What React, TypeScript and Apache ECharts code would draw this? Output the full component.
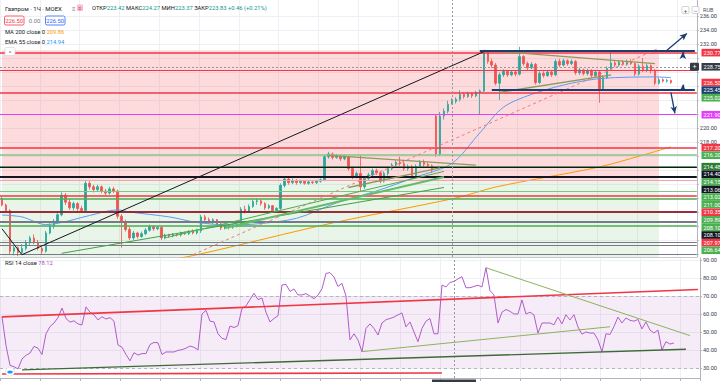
import React, { useEffect, useRef } from 'react';
import * as echarts from 'echarts';

// ---------- DATA ----------
const categories: string[] = Array.from({ length: 175 }, (_, i) => String(i));

// [open, close, low, high]
const candles: number[][] = [
  [209.9, 209.0, 208.8, 210.2], [209.0, 208.2, 207.9, 209.2], [208.2, 202.4, 201.9, 208.4], [202.4, 202.9, 201.8, 203.3],
  [202.9, 202.2, 201.7, 203.1], [202.2, 202.8, 201.9, 203.4], [202.8, 203.6, 202.5, 204.0], [203.6, 204.3, 203.2, 204.6],
  [204.3, 203.7, 203.4, 204.8], [203.7, 202.8, 202.5, 204.0], [202.8, 202.4, 201.9, 203.0], [202.4, 205.0, 202.2, 205.3],
  [205.0, 206.0, 204.8, 206.4], [206.0, 206.7, 205.6, 207.0], [206.7, 207.6, 206.4, 208.0], [207.6, 210.4, 207.4, 210.8],
  [210.4, 209.4, 209.0, 210.7], [209.4, 208.6, 208.3, 209.9], [208.6, 209.2, 208.2, 209.5], [209.2, 208.5, 208.1, 209.4],
  [208.5, 208.2, 207.9, 208.9], [208.2, 212.1, 208.0, 212.5], [212.1, 211.6, 211.2, 212.4], [211.6, 211.2, 210.8, 211.9],
  [211.2, 211.6, 210.9, 211.9], [211.6, 211.0, 210.7, 211.8], [211.0, 210.7, 210.4, 211.3], [210.7, 211.3, 210.5, 211.6],
  [211.3, 211.0, 210.7, 211.6], [211.0, 207.4, 207.0, 211.2], [207.4, 206.6, 202.9, 207.7], [206.6, 205.5, 205.2, 206.9],
  [205.5, 204.3, 204.0, 205.9], [204.3, 205.0, 204.0, 205.3], [205.0, 204.5, 204.2, 205.2], [204.5, 204.9, 204.3, 205.2],
  [204.9, 205.4, 204.7, 205.7], [205.4, 205.9, 205.2, 206.2], [205.9, 205.6, 205.3, 206.1], [205.6, 205.8, 205.4, 206.0],
  [205.8, 204.3, 204.0, 206.0], [204.3, 204.7, 204.1, 204.9], [204.7, 204.6, 204.3, 204.9], [204.6, 204.8, 204.4, 205.0],
  [204.8, 204.7, 204.5, 205.0], [204.7, 205.0, 204.5, 205.2], [205.0, 204.9, 204.7, 205.2], [204.9, 205.2, 204.7, 205.4],
  [205.2, 205.0, 204.8, 205.5], [205.0, 205.3, 204.8, 205.6], [205.3, 207.3, 205.0, 207.6], [207.3, 206.9, 206.6, 207.6],
  [206.9, 206.6, 206.3, 207.2], [206.6, 206.9, 206.3, 207.1], [206.9, 206.3, 206.0, 207.0], [206.3, 205.7, 205.4, 206.5],
  [205.7, 206.0, 205.5, 206.2], [206.0, 205.8, 205.5, 206.2], [205.8, 206.1, 205.6, 206.3], [206.1, 206.2, 205.8, 206.4],
  [206.2, 208.4, 206.0, 208.7], [208.4, 208.1, 207.8, 208.9], [208.1, 208.8, 207.9, 209.1], [208.8, 209.5, 208.6, 209.8],
  [209.5, 209.6, 209.0, 209.9], [209.6, 209.2, 208.9, 209.8], [209.2, 208.6, 208.3, 209.4], [208.6, 208.9, 208.4, 209.1],
  [208.9, 208.2, 207.9, 209.0], [208.2, 208.5, 208.0, 208.7], [208.5, 211.8, 208.3, 212.1], [211.8, 212.7, 211.5, 213.0],
  [212.7, 212.2, 211.9, 212.9], [212.2, 212.5, 212.0, 212.8], [212.5, 212.2, 211.9, 212.7], [212.2, 212.4, 212.0, 212.6],
  [212.4, 212.1, 211.9, 212.5], [212.1, 212.3, 211.9, 212.5], [212.3, 212.2, 212.0, 212.4], [212.2, 212.4, 212.0, 212.6],
  [212.4, 212.6, 212.2, 212.8], [212.6, 215.9, 212.4, 216.2], [215.9, 216.3, 215.6, 216.6], [216.3, 215.8, 215.5, 216.5],
  [215.8, 216.0, 215.6, 216.3], [216.0, 215.6, 215.3, 216.2], [215.6, 215.9, 215.4, 216.2], [215.9, 214.2, 213.9, 216.0],
  [214.2, 213.1, 212.7, 214.5], [213.1, 213.5, 212.8, 213.8], [213.5, 211.6, 210.9, 216.1], [211.6, 212.8, 211.3, 213.1],
  [212.8, 213.3, 212.5, 213.6], [213.3, 213.9, 213.0, 214.2], [213.9, 213.6, 213.3, 214.2], [213.6, 212.4, 212.1, 213.8],
  [212.4, 213.5, 212.2, 213.8], [213.5, 214.2, 213.2, 214.5], [214.2, 214.7, 214.0, 215.0], [214.7, 215.1, 214.4, 215.4],
  [215.1, 214.9, 214.6, 215.9], [214.9, 214.2, 213.9, 215.2], [214.2, 214.5, 213.9, 214.8], [214.5, 213.2, 212.8, 214.7],
  [213.2, 214.5, 212.9, 214.8], [214.5, 215.1, 214.3, 215.4], [215.1, 214.8, 214.4, 215.5], [214.8, 214.6, 214.3, 215.1],
  [214.6, 214.0, 213.6, 214.8], [221.7, 216.3, 215.9, 221.9], [216.3, 221.7, 216.0, 222.3], [221.7, 222.4, 221.2, 222.8],
  [222.4, 223.37, 222.1, 223.9], [223.42, 223.83, 223.37, 224.27], [223.8, 224.1, 223.5, 224.4], [224.1, 224.8, 223.8, 225.4],
  [224.8, 224.5, 224.2, 225.1], [224.5, 224.9, 224.3, 225.2], [224.9, 224.6, 224.3, 225.1], [224.6, 225.1, 224.4, 225.3],
  [225.1, 225.3, 221.9, 225.5], [225.3, 230.9, 225.1, 231.1], [230.9, 229.5, 229.2, 231.0], [229.5, 229.0, 228.6, 229.9],
  [229.0, 226.4, 226.1, 229.3], [226.4, 227.6, 224.0, 227.9], [227.6, 228.1, 227.3, 228.4], [228.1, 227.6, 227.3, 228.3],
  [227.6, 228.0, 227.4, 228.2], [228.0, 227.7, 227.4, 228.2], [227.7, 230.2, 227.5, 231.6], [230.2, 229.2, 228.9, 230.4],
  [229.2, 228.6, 228.3, 229.5], [228.6, 229.1, 228.4, 229.4], [229.1, 226.5, 226.2, 229.3], [226.5, 227.8, 226.3, 228.1],
  [227.8, 227.5, 227.2, 228.1], [227.5, 228.0, 227.3, 228.3], [228.0, 227.6, 227.3, 228.2], [227.6, 229.5, 227.4, 229.8],
  [229.5, 229.0, 228.7, 229.9], [229.0, 229.6, 228.8, 229.9], [229.6, 229.2, 228.9, 229.8], [229.2, 229.5, 229.0, 229.8],
  [229.5, 227.9, 227.6, 229.7], [227.9, 228.3, 227.6, 228.6], [228.3, 227.8, 227.5, 228.5], [227.8, 228.2, 227.5, 228.5],
  [228.2, 227.5, 227.2, 228.4], [227.5, 228.0, 227.3, 228.3], [228.0, 225.6, 223.6, 228.2], [225.6, 227.2, 225.3, 227.5],
  [227.2, 228.5, 227.0, 228.8], [228.5, 229.3, 228.3, 231.1], [229.3, 229.0, 228.7, 229.6], [229.0, 229.4, 228.8, 229.7],
  [229.4, 229.1, 228.9, 229.7], [229.1, 229.5, 228.9, 229.8], [229.5, 229.2, 229.0, 229.8], [229.2, 227.7, 227.4, 229.4],
  [227.7, 228.8, 227.5, 229.1], [228.8, 228.3, 228.0, 230.0], [228.3, 228.9, 228.0, 229.2], [228.9, 228.2, 227.8, 229.1],
  [228.2, 226.4, 226.1, 228.4], [226.4, 226.9, 226.2, 227.2], [226.9, 226.7, 226.5, 227.1], [226.7, 226.8, 226.5, 227.0],
  [226.8, 226.5, 226.3, 226.9],
];

const rsiValues: number[] = [
  58.5, 42.6, 31.5, 30.7, 29.5, 35.0, 37.0, 38.3, 42.0, 41.0,
  37.5, 49.0, 53.0, 55.0, 58.0, 63.3, 57.5, 55.5, 56.2, 54.5,
  53.9, 63.9, 61.0, 59.5, 56.7, 58.5, 57.2, 58.0, 56.0, 42.8,
  41.5, 37.5, 34.0, 38.5, 37.2, 38.0, 38.0, 43.0, 44.2, 44.0,
  37.5, 38.9, 38.9, 38.9, 39.8, 40.2, 41.0, 42.2, 41.5, 40.0,
  60.0, 62.0, 56.0, 55.6, 49.0, 46.5, 45.8, 53.3, 52.5, 53.5,
  63.0, 64.5, 68.0, 71.5, 68.0, 68.9, 61.0, 55.6, 57.5, 59.0,
  76.1, 76.5, 72.5, 73.9, 70.6, 70.6, 71.3, 70.0, 68.5, 70.5,
  74.0, 82.5, 83.0, 80.5, 75.3, 77.0, 70.0, 45.6, 49.0, 45.6,
  39.0, 52.0, 54.5, 52.0, 48.3, 55.0, 56.8, 57.5, 58.3, 59.5,
  60.6, 52.8, 55.6, 50.0, 44.6, 52.0, 56.0, 57.5, 49.0, 49.0,
  76.1, 75.0, 77.5, 78.1, 79.5, 80.7, 74.6, 74.6, 75.3, 76.0,
  75.0, 85.7, 73.0, 70.6, 55.0, 61.0, 62.5, 61.5, 60.0, 60.0,
  67.8, 60.0, 61.0, 59.5, 49.4, 55.0, 55.0, 55.0, 54.0, 58.3,
  54.5, 59.6, 56.7, 59.6, 52.8, 48.8, 50.0, 49.4, 49.4, 45.6,
  39.0, 49.0, 48.6, 53.0, 58.3, 55.0, 57.8, 56.5, 56.0, 57.0,
  51.7, 55.6, 51.1, 49.4, 51.1, 40.0, 44.6, 43.3, 43.9,
];

// indicator readings [candle index, value]
const ema55Points: number[][] = [
  [0, 207.57], [5, 207.3], [11, 206.2], [15, 206.5], [22, 207.5], [29, 208.3], [32, 208.0], [42, 207.3],
  [49, 206.5], [57, 206.15], [64, 206.3], [74, 207.1], [84, 209.3], [94, 211.0], [104, 213.0], [113, 214.94],
  [120, 219.3], [126, 223.0], [134, 225.0], [143, 226.4], [151, 227.1], [164, 227.3], [168, 227.2],
];
const ma200Points: number[][] = [
  [30, 199.8], [49, 201.9], [83, 206.43], [114, 210.0], [124, 211.57], [150, 214.43], [161, 216.14], [168, 217.3],
];

const priceGridValues = [202, 204, 206, 208, 210, 212, 214, 216, 218, 220, 222, 224, 226, 228, 230, 232, 234, 236];
const priceLabelValues = [218, 220, 232, 234, 236];
const rsiTicks = [30, 40, 50, 60, 70, 80, 90];

// horizontal levels drawn across the price pane
const levelPrices = [230.77, 228.3, 225.02, 221.9, 217.2, 216.2, 214.48, 214.4, 213.06, 212.57, 211.0, 210.35, 209.89, 208.1, 207.97, 206.64, 206.5, 206.1, 203.7, 203.3, 201.9];
const levelColors = ['#f23645', '#f23645', '#f23645', '#e040fb', '#f23645', '#81c784', '#2e7d32', '#131722', '#131722', '#f7a1a8', '#81c784', '#f23645', '#4caf50', '#131722', '#b2232f', '#787b86', '#787b86', '#4caf50', '#787b86', '#787b86', '#787b86'];
const levelWidths = [1.5, 1, 1.5, 1, 1.5, 1.5, 1.5, 1, 2, 1, 1, 1.5, 1.5, 1.5, 1.5, 1, 1, 1.5, 1, 1, 1];

// price tags on the right scale
const tagPrices = [230.77, 228.75, 226.5, 225.45, 225.02, 221.9, 217.2, 216.2, 214.48, 214.4, 214.15, 213.06, 213.02, 211.0, 210.35, 209.89, 208.1, 208.1, 207.97, 206.64];
const tagColors = ['#f23645', '#363a45', '#f23645', '#1c3d6e', '#4caf50', '#e040fb', '#f23645', '#4caf50', '#2e7d32', '#131722', '#4caf50', '#131722', '#4caf50', '#4caf50', '#f23645', '#4caf50', '#4caf50', '#131722', '#f23645', '#4caf50'];

// drawings [i1, p1, i2, p2]
const blackLines = [[0, 205.6, 5, 201.9], [5, 201.9, 121, 230.9]];
const pinkDashed = [[48, 201.9, 165, 231.4]];
const greenFan = [[15, 202.1, 111, 211.5], [41, 204.3, 111, 213.8], [56, 205.7, 111, 213.0]];
const oliveLines = [[82, 216.1, 119, 214.7], [87, 211.5, 110, 214.3], [121, 231.1, 164, 229.2], [125, 225.1, 153, 227.6]];
const channelLines = [[120, 231.1, 174, 231.1], [123, 225.45, 174, 225.45]];
const arrowLines = [[167, 231.1, 172, 233.5], [168, 225.1, 169, 222.1], [171, 230.2, 171, 230.85], [171, 225.55, 171, 226.2]];
const crossIndex = 113;
const crossPrice = 228.75;

const rsiRedLines = [[0, 58.4, 174, 73.6], [0, 26.7, 110, 27.2]];
const rsiSupport = [[5, 28.9, 171, 40.4]];
const rsiGreenLines = [[90, 39.1, 152, 52.9], [121, 85.7, 172, 48.0]];

const titleText = 'Газпром · 1Ч · MOEX';
const ohlcLabels = ['ОТКР', 'МАКС', 'МИН', 'ЗАКР'];
const ohlcValues = ['223.42', '224.27', '223.37', '223.83'];
const changeText = '+0.46 (+0.21%)';
const sellPrice = '226.50';
const spreadText = '0.00';
const buyPrice = '226.50';
const maLabel = 'MA 200 close 0';
const maValue = '209.86';
const emaLabel = 'EMA 55 close 0';
const emaValue = '214.94';
const rsiLabel = 'RSI 14 close';
const rsiValue = '78.12';

// ---------- CHART ----------
const FONT = 'Roboto, "Noto Sans", sans-serif';

function seg(s: number[], style: any, endSymbol?: string) {
  return [
    { coord: [s[0], s[1]], lineStyle: style, symbol: 'none' },
    { coord: [s[2], s[3]], symbol: endSymbol || 'none', symbolSize: endSymbol ? [5, 7] : 0 },
  ];
}

function buildOption() {
  const mainMarkLines: any[] = [];
  levelPrices.forEach((p, k) => {
    mainMarkLines.push({ yAxis: p, lineStyle: { color: levelColors[k], width: levelWidths[k], type: 'solid' } });
  });
  blackLines.forEach((s) => mainMarkLines.push(seg(s, { color: '#131722', width: 1, type: 'solid' })));
  pinkDashed.forEach((s) => mainMarkLines.push(seg(s, { color: '#f7757f', width: 1, type: [3, 3] })));
  greenFan.forEach((s, k) => mainMarkLines.push(seg(s, { color: ['#43a047', '#4caf50', '#66bb6a'][k], width: k === 2 ? 2 : 1, type: 'solid' })));
  oliveLines.forEach((s) => mainMarkLines.push(seg(s, { color: '#8c9b5a', width: 1.3, type: 'solid' })));
  channelLines.forEach((s) => mainMarkLines.push(seg(s, { color: '#1c3d6e', width: 2.2, type: 'solid' })));
  arrowLines.forEach((s) => mainMarkLines.push(seg(s, { color: '#1c3d6e', width: 1.3, type: 'solid' }, 'arrow')));
  mainMarkLines.push({ yAxis: crossPrice, lineStyle: { color: '#9598a1', width: 1, type: [2, 2] } });
  mainMarkLines.push({ xAxis: crossIndex, lineStyle: { color: '#9598a1', width: 1, type: [2, 2] } });

  const rsiMarkLines: any[] = [
    { yAxis: 70, lineStyle: { color: '#b2b5be', width: 1, type: [3, 3] } },
    { yAxis: 30, lineStyle: { color: '#b2b5be', width: 1, type: [3, 3] } },
    { xAxis: crossIndex, lineStyle: { color: '#9598a1', width: 1, type: [2, 2] } },
  ];
  rsiRedLines.forEach((s) => rsiMarkLines.push(seg(s, { color: '#f23645', width: 1.6, type: 'solid' })));
  rsiSupport.forEach((s) => rsiMarkLines.push(seg(s, { color: '#3d6b35', width: 1.3, type: 'solid' })));
  rsiGreenLines.forEach((s) => rsiMarkLines.push(seg(s, { color: '#8bb45a', width: 1, type: 'solid' })));

  const axisLabelBase = { fontSize: 5.6, color: '#3a3e4a', fontFamily: FONT, margin: 3 };

  return {
    animation: false,
    backgroundColor: '#ffffff',
    grid: [
      { left: 0, right: 19, top: 0, height: 257 },
      { left: 0, right: 19, top: 258, height: 120 },
    ],
    xAxis: [
      {
        type: 'category', gridIndex: 0, data: categories, boundaryGap: true,
        axisLine: { show: true, lineStyle: { color: '#c9cbd1', width: 1 } },
        axisTick: { show: false }, axisLabel: { show: false },
        splitLine: { show: true, interval: 9, lineStyle: { color: '#eef0f5', width: 1 } },
      },
      {
        type: 'category', gridIndex: 1, data: categories, boundaryGap: true,
        axisLine: { show: true, lineStyle: { color: '#b2b5be', width: 1 } },
        axisTick: { show: true, interval: 9, length: 3, lineStyle: { color: '#b2b5be' } },
        axisLabel: { show: false },
        splitLine: { show: true, interval: 9, lineStyle: { color: '#eef0f5', width: 1 } },
      },
    ],
    yAxis: [
      {
        type: 'value', gridIndex: 0, position: 'right', min: 201.57, max: 238.29,
        axisLine: { show: true, lineStyle: { color: '#b2b5be' } },
        axisTick: { show: true, length: 2, customValues: priceGridValues, lineStyle: { color: '#b2b5be' } },
        axisLabel: { ...axisLabelBase, customValues: priceLabelValues, formatter: (v: number) => v.toFixed(2) },
        splitLine: { show: true, lineStyle: { color: '#eef0f5', width: 1 } },
      },
      {
        type: 'value', gridIndex: 1, position: 'right', min: 24.44, max: 91.11,
        axisLine: { show: true, lineStyle: { color: '#b2b5be' } },
        axisTick: { show: true, length: 2, customValues: rsiTicks, lineStyle: { color: '#b2b5be' } },
        axisLabel: { ...axisLabelBase, customValues: rsiTicks, formatter: (v: number) => v.toFixed(2) },
        splitLine: { show: true, lineStyle: { color: '#eef0f5', width: 1 } },
      },
    ],
    series: [
      {
        type: 'candlestick', xAxisIndex: 0, yAxisIndex: 0, data: candles, barWidth: 2,
        itemStyle: { color: '#26a69a', color0: '#ef5350', borderColor: '#26a69a', borderColor0: '#ef5350', borderWidth: 0.8 },
        markArea: {
          silent: true,
          data: [
            [{ coord: [0, 231.1], itemStyle: { color: 'rgba(242,54,69,0.18)' } }, { coord: [165, 212.57] }],
            [{ coord: [0, 212.57], itemStyle: { color: 'rgba(76,175,80,0.13)' } }, { coord: [165, 201.57] }],
          ],
        },
        markLine: { silent: true, symbol: ['none', 'none'], label: { show: false }, data: mainMarkLines },
      },
      {
        type: 'line', xAxisIndex: 0, yAxisIndex: 0, data: ema55Points, symbol: 'none', smooth: 0.3,
        lineStyle: { color: '#5b9cf6', width: 1 }, z: 3,
      },
      {
        type: 'line', xAxisIndex: 0, yAxisIndex: 0, data: ma200Points, symbol: 'none', smooth: 0.3,
        lineStyle: { color: '#ff9800', width: 1 }, z: 3,
      },
      {
        type: 'line', xAxisIndex: 1, yAxisIndex: 1, data: rsiValues, symbol: 'none',
        lineStyle: { color: '#b05cc9', width: 1 },
        markArea: {
          silent: true,
          data: [[{ yAxis: 70, itemStyle: { color: 'rgba(156,39,176,0.09)' } }, { yAxis: 30 }]],
        },
        markLine: { silent: true, symbol: ['none', 'none'], label: { show: false }, data: rsiMarkLines },
      },
    ],
  };
}

function txt(x: number, y: number, text: string, fill: string, size = 6, align = 'left', extra: any = {}) {
  return {
    type: 'text', x, y, z: 100, silent: true,
    style: { text, fill, fontSize: size, fontFamily: FONT, align, verticalAlign: 'middle', ...extra },
  };
}

function buildGraphics(chart: any) {
  const els: any[] = [];
  // legend
  els.push(txt(5, 8, titleText, '#131722', 6));
  els.push(txt(72, 8, '≡', '#787b86', 6));
  els.push({ type: 'rect', z: 100, silent: true, shape: { x: 77, y: 4.5, width: 6, height: 6.5, r: 1 }, style: { fill: '#f8bbd0' } });
  els.push(txt(80, 8, '≡', '#e91e63', 5, 'center'));
  let rich = '';
  ohlcLabels.forEach((l, k) => { rich += `{l|${l}}{v|${ohlcValues[k]}} `; });
  rich += `{v|${changeText}}`;
  els.push({
    type: 'text', x: 92, y: 8, z: 100, silent: true,
    style: {
      text: rich, verticalAlign: 'middle', fontSize: 5.8, fontFamily: FONT,
      rich: { l: { fill: '#131722', fontSize: 5.8, fontFamily: FONT }, v: { fill: '#089981', fontSize: 5.8, fontFamily: FONT } },
    },
  });
  els.push({ type: 'rect', z: 100, silent: true, shape: { x: 4.5, y: 16, width: 19.5, height: 9, r: 1.5 }, style: { fill: '#fff', stroke: '#f23645', lineWidth: 0.8 } });
  els.push(txt(14.2, 20.6, sellPrice, '#f23645', 5.8, 'center'));
  els.push(txt(34.5, 20.6, spreadText, '#787b86', 5.8, 'center'));
  els.push({ type: 'rect', z: 100, silent: true, shape: { x: 45.5, y: 16, width: 19.5, height: 9, r: 1.5 }, style: { fill: '#fff', stroke: '#2962ff', lineWidth: 0.8 } });
  els.push(txt(55.2, 20.6, buyPrice, '#2962ff', 5.8, 'center'));
  els.push({
    type: 'text', x: 5, y: 32, z: 100, silent: true,
    style: { text: `{l|${maLabel}} {o|${maValue}}`, verticalAlign: 'middle', fontSize: 5.8, fontFamily: FONT,
      rich: { l: { fill: '#131722', fontSize: 5.8, fontFamily: FONT }, o: { fill: '#ff9800', fontSize: 5.8, fontFamily: FONT } } },
  });
  els.push({
    type: 'text', x: 5, y: 42, z: 100, silent: true,
    style: { text: `{l|${emaLabel}} {o|${emaValue}}`, verticalAlign: 'middle', fontSize: 5.8, fontFamily: FONT,
      rich: { l: { fill: '#131722', fontSize: 5.8, fontFamily: FONT }, o: { fill: '#2196f3', fontSize: 5.8, fontFamily: FONT } } },
  });
  els.push({ type: 'rect', z: 100, silent: true, shape: { x: 5, y: 47.5, width: 10, height: 8, r: 1 }, style: { fill: '#fff', stroke: '#d1d4dc', lineWidth: 0.6 } });
  els.push(txt(10, 52, '^', '#555', 6, 'center'));
  els.push({
    type: 'text', x: 5, y: 262.5, z: 100, silent: true,
    style: { text: `{l|${rsiLabel}} {o|${rsiValue}}`, verticalAlign: 'middle', fontSize: 5.8, fontFamily: FONT,
      rich: { l: { fill: '#131722', fontSize: 5.8, fontFamily: FONT }, o: { fill: '#ab47bc', fontSize: 5.8, fontFamily: FONT } } },
  });
  // small logo badge in the RSI pane
  els.push({ type: 'circle', z: 100, silent: true, shape: { cx: 10, cy: 371.5, r: 4.5 }, style: { fill: '#fff', stroke: '#d1d4dc', lineWidth: 0.6 } });
  els.push({ type: 'ellipse', z: 101, silent: true, shape: { cx: 10, cy: 372, rx: 2.8, ry: 1.6 }, style: { fill: '#2196f3' } });
  // top right
  els.push(txt(703, 10, 'RUB', '#50535e', 5.5));
  els.push({ type: 'rect', z: 100, silent: true, shape: { x: 682, y: 6.5, width: 7, height: 7, r: 1 }, style: { fill: '#fff', stroke: '#b2b5be', lineWidth: 0.6 } });
  els.push(txt(685.5, 10, '+', '#50535e', 6, 'center'));
  els.push({ type: 'rect', z: 100, silent: true, shape: { x: 692, y: 6.5, width: 7, height: 7, r: 1 }, style: { fill: '#fff', stroke: '#b2b5be', lineWidth: 0.6 } });
  els.push(txt(695.5, 10, '↔', '#50535e', 5, 'center'));

  // price tags, stacked like the price scale does
  const order = tagPrices.map((p, k) => k).sort((a, b) => tagPrices[b] - tagPrices[a]);
  let prevY = -1000;
  order.forEach((k) => {
    let y = chart.convertToPixel({ yAxisIndex: 0 }, tagPrices[k]);
    if (y < prevY + 7.6) y = prevY + 7.6;
    prevY = y;
    els.push({ type: 'rect', z: 100, silent: true, shape: { x: 701.5, y: y - 3.8, width: 30, height: 7.6 }, style: { fill: tagColors[k] } });
    els.push(txt(703.5, y + 0.2, tagPrices[k].toFixed(2), '#ffffff', 5.6));
  });
  // crosshair "+" button and time box
  const cy = chart.convertToPixel({ yAxisIndex: 0 }, crossPrice);
  els.push({ type: 'rect', z: 100, silent: true, shape: { x: 690, y: cy - 4, width: 9, height: 8, r: 1 }, style: { fill: '#363a45' } });
  els.push(txt(694.5, cy, '+', '#ffffff', 6.5, 'center'));
  const cx = chart.convertToPixel({ xAxisIndex: 1 }, categories[crossIndex]);
  els.push({ type: 'rect', z: 100, silent: true, shape: { x: cx - 22, y: 379.5, width: 44, height: 10 }, style: { fill: '#363a45' } });
  return els;
}

export default function App() {
  const ref = useRef<HTMLDivElement>(null);
  useEffect(() => {
    if (!ref.current) return;
    const chart = echarts.init(ref.current, undefined, { renderer: 'svg' });
    chart.setOption(buildOption() as any);
    chart.setOption({ graphic: buildGraphics(chart) } as any);
    return () => chart.dispose();
  }, []);
  return <div ref={ref} style={{ position: 'fixed', left: 0, top: 0, width: 720, height: 382, background: '#fff' }} />;
}
